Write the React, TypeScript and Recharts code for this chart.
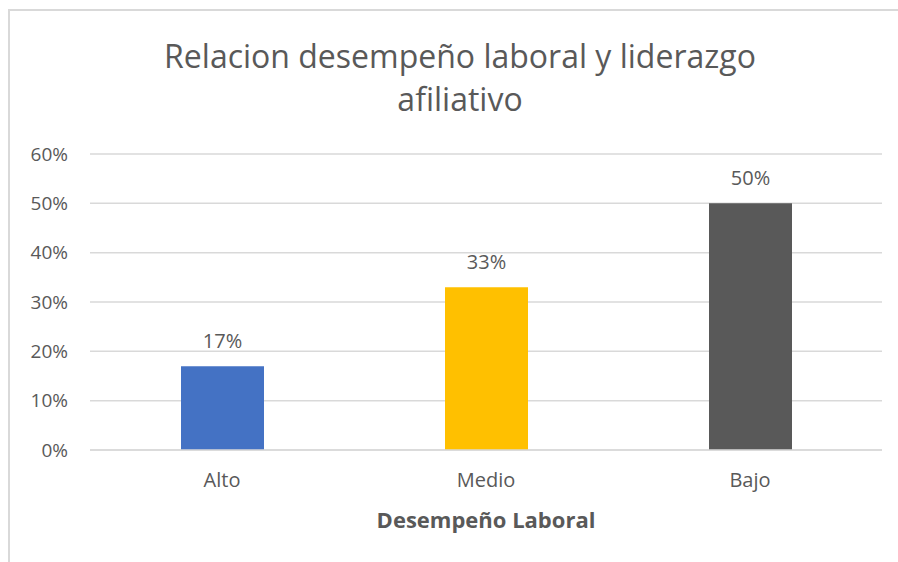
import React from 'react';
import { BarChart, Bar, XAxis, YAxis, CartesianGrid, Cell, LabelList } from 'recharts';

const categories = ['Alto', 'Medio', 'Bajo'];
const values = [0.17, 0.33, 0.5];
const barColors = ['#4472C4', '#FFC000', '#595959'];
const yTicks = [0, 0.1, 0.2, 0.3, 0.4, 0.5, 0.6];

const data = categories.map((name, i) => ({ name, value: values[i] }));

const pct = (v: number) => `${Math.round(v * 100)}%`;
const font = '"Open Sans", "Noto Sans", sans-serif';
const textColor = '#595959';

export default function App() {
  return (
    <div style={{ position: 'fixed', left: 0, top: 0, width: 898, height: 562, background: '#fff', fontFamily: font, overflow: 'hidden' }}>
      <div style={{ position: 'absolute', left: 8, top: 9, right: -4, bottom: -4, borderLeft: '2px solid #d9d9d9', borderTop: '2px solid #d9d9d9' }} />
      <div style={{ position: 'absolute', left: 40, width: 840, top: 34, textAlign: 'center', color: textColor, fontSize: 32, lineHeight: '43px' }}>
        Relacion desempeño laboral y liderazgo
        <br />
        afiliativo
      </div>
      <div style={{ position: 'absolute', left: 90, width: 792, top: 504, textAlign: 'center', color: textColor, fontSize: 22, fontWeight: 'bold' }}>
        Desempeño Laboral
      </div>
      <div style={{ position: 'absolute', left: 0, top: 0 }}>
        <BarChart width={898} height={562} data={data} margin={{ top: 154, right: 16, left: 0, bottom: 62 }} barSize={83}>
          <CartesianGrid vertical={false} stroke="#d9d9d9" strokeWidth={1.5} />
          <XAxis
            dataKey="name"
            height={50}
            axisLine={{ stroke: '#d9d9d9', strokeWidth: 1.5 }}
            tickLine={false}
            tick={{ fill: textColor, fontSize: 20, fontFamily: font }}
            tickMargin={17}
          />
          <YAxis
            width={90}
            domain={[0, 0.6]}
            ticks={yTicks}
            tickFormatter={pct}
            axisLine={false}
            tickLine={false}
            tick={{ fill: textColor, fontSize: 19, fontFamily: font }}
            tickMargin={16}
          />
          <Bar dataKey="value" isAnimationActive={false}>
            {data.map((d, i) => (
              <Cell key={d.name} fill={barColors[i]} />
            ))}
            <LabelList dataKey="value" position="top" offset={18} formatter={(v: any) => pct(Number(v))} fill={textColor} fontSize={20} fontFamily={font} />
          </Bar>
        </BarChart>
      </div>
    </div>
  );
}
